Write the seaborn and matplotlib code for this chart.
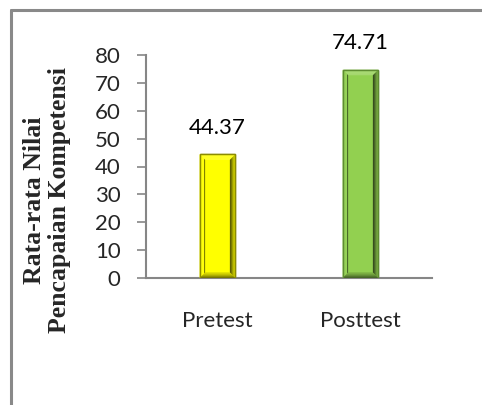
import numpy as np
import pandas as pd
import seaborn as sns
import matplotlib.pyplot as plt
from matplotlib.patches import Polygon
from matplotlib.colors import to_rgb

categories = ["Pretest", "Posttest"]
values = [44.37, 74.71]
bar_colors = ["#FFFF00", "#92D050"]
edge_colors = ["#8C8C00", "#5E8C31"]
y_ticks = [0, 10, 20, 30, 40, 50, 60, 70, 80]

df = pd.DataFrame({"group": categories, "nilai": values})

sns.set_style("white")
W, H = 482, 405
fig = plt.figure(figsize=(W / 100, H / 100), dpi=100)

# outer chart frame (top and left edges visible)
fig.add_artist(plt.Line2D([11 / W, 1.0], [1 - 10 / H, 1 - 10 / H], color="#898989", lw=2.2))
fig.add_artist(plt.Line2D([11 / W, 11 / W], [0.0, 1 - 10 / H], color="#898989", lw=2.2))

ax_l, ax_r, ax_t, ax_b = 146, 432, 55, 278
ax = fig.add_axes([ax_l / W, 1 - ax_b / H, (ax_r - ax_l) / W, (ax_b - ax_t) / H])

sns.barplot(data=df, x="group", y="nilai", hue="group", palette=bar_colors,
            width=0.25, legend=False, ax=ax, saturation=1)

ax.set_xlim(-0.5, 1.5)
ax.set_ylim(0, 80)
ax.set_yticks(y_ticks)

# bevel shading on each bar
px_x = 2.0 / (ax_r - ax_l)
px_y = 80.0 / (ax_b - ax_t)
bev = 5.5


def mix(c, t, amt):
    c = np.array(to_rgb(c)); t = np.array(to_rgb(t))
    return tuple(c + (t - c) * amt)


for patch, col, ec in zip(ax.patches, bar_colors, edge_colors):
    patch.set_edgecolor(ec)
    patch.set_linewidth(1.0)
    x0, y0 = patch.get_x(), patch.get_y()
    x1, y1 = x0 + patch.get_width(), y0 + patch.get_height()
    n = 5
    for k in range(n):
        a0, a1 = k / n * bev, (k + 1) / n * bev
        bx0, bx1 = a0 * px_x, a1 * px_x
        by0, by1 = a0 * px_y, a1 * px_y
        frac = (k + 0.5) / n
        # top: light
        top = mix(col, "white", 0.2)
        ax.add_patch(Polygon([(x0 + bx0, y1 - by0), (x1 - bx0, y1 - by0),
                              (x1 - bx1, y1 - by1), (x0 + bx1, y1 - by1)],
                             closed=True, facecolor=top, edgecolor="none", zorder=3))
        # left: bright with a dark inner line
        lc = mix(col, "black", 0.5) if k == n - 1 else mix(col, "white", 0.05)
        ax.add_patch(Polygon([(x0 + bx0, y0 + by0), (x0 + bx0, y1 - by0),
                              (x0 + bx1, y1 - by1), (x0 + bx1, y0 + by1)],
                             closed=True, facecolor=lc, edgecolor="none", zorder=3))
        # right: darkening toward the face
        rc = mix(col, "black", 0.1 + 0.6 * frac)
        ax.add_patch(Polygon([(x1 - bx0, y0 + by0), (x1 - bx0, y1 - by0),
                              (x1 - bx1, y1 - by1), (x1 - bx1, y0 + by1)],
                             closed=True, facecolor=rc, edgecolor="none", zorder=3))
        # bottom: stepped shading
        bc = mix(col, "black", 0.15 + 0.45 * (1 - frac))
        ax.add_patch(Polygon([(x0 + bx0, y0 + by0), (x1 - bx0, y0 + by0),
                              (x1 - bx1, y0 + by1), (x0 + bx1, y0 + by1)],
                             closed=True, facecolor=bc, edgecolor="none", zorder=3))
    ax.add_patch(plt.Rectangle((x0, y0), x1 - x0, y1 - y0, fill=False,
                               edgecolor=ec, lw=1.0, zorder=4))

label_font = "Lato"
for i, v in enumerate(values):
    ax.annotate(f"{v:.2f}", (i, v), xytext=(0, 19), textcoords="offset points",
                ha="center", va="center", fontsize=16, family=label_font, color="black")

for s in ["top", "right"]:
    ax.spines[s].set_visible(False)
for s in ["left", "bottom"]:
    ax.spines[s].set_color("#868686")
    ax.spines[s].set_linewidth(1.5)
ax.spines["left"].set_zorder(5)

ax.tick_params(axis="y", direction="out", length=6.3, width=1.2, color="#868686",
               pad=12, labelsize=16, left=True)
ax.tick_params(axis="x", length=0, pad=23.5, labelsize=16)
for lab in ax.get_yticklabels() + ax.get_xticklabels():
    lab.set_family(label_font)

ax.set_xlabel("")
ax.set_ylabel("Rata-rata Nilai\nPencapaian Kompetensi", family="Liberation Serif",
              fontweight="bold", fontsize=18.5, linespacing=1.1, va="center", ha="center")
ax.yaxis.set_label_coords((47 - ax_l) / (ax_r - ax_l), (ax_b - 200) / (ax_b - ax_t))

fig.savefig("out.png", dpi=100)
